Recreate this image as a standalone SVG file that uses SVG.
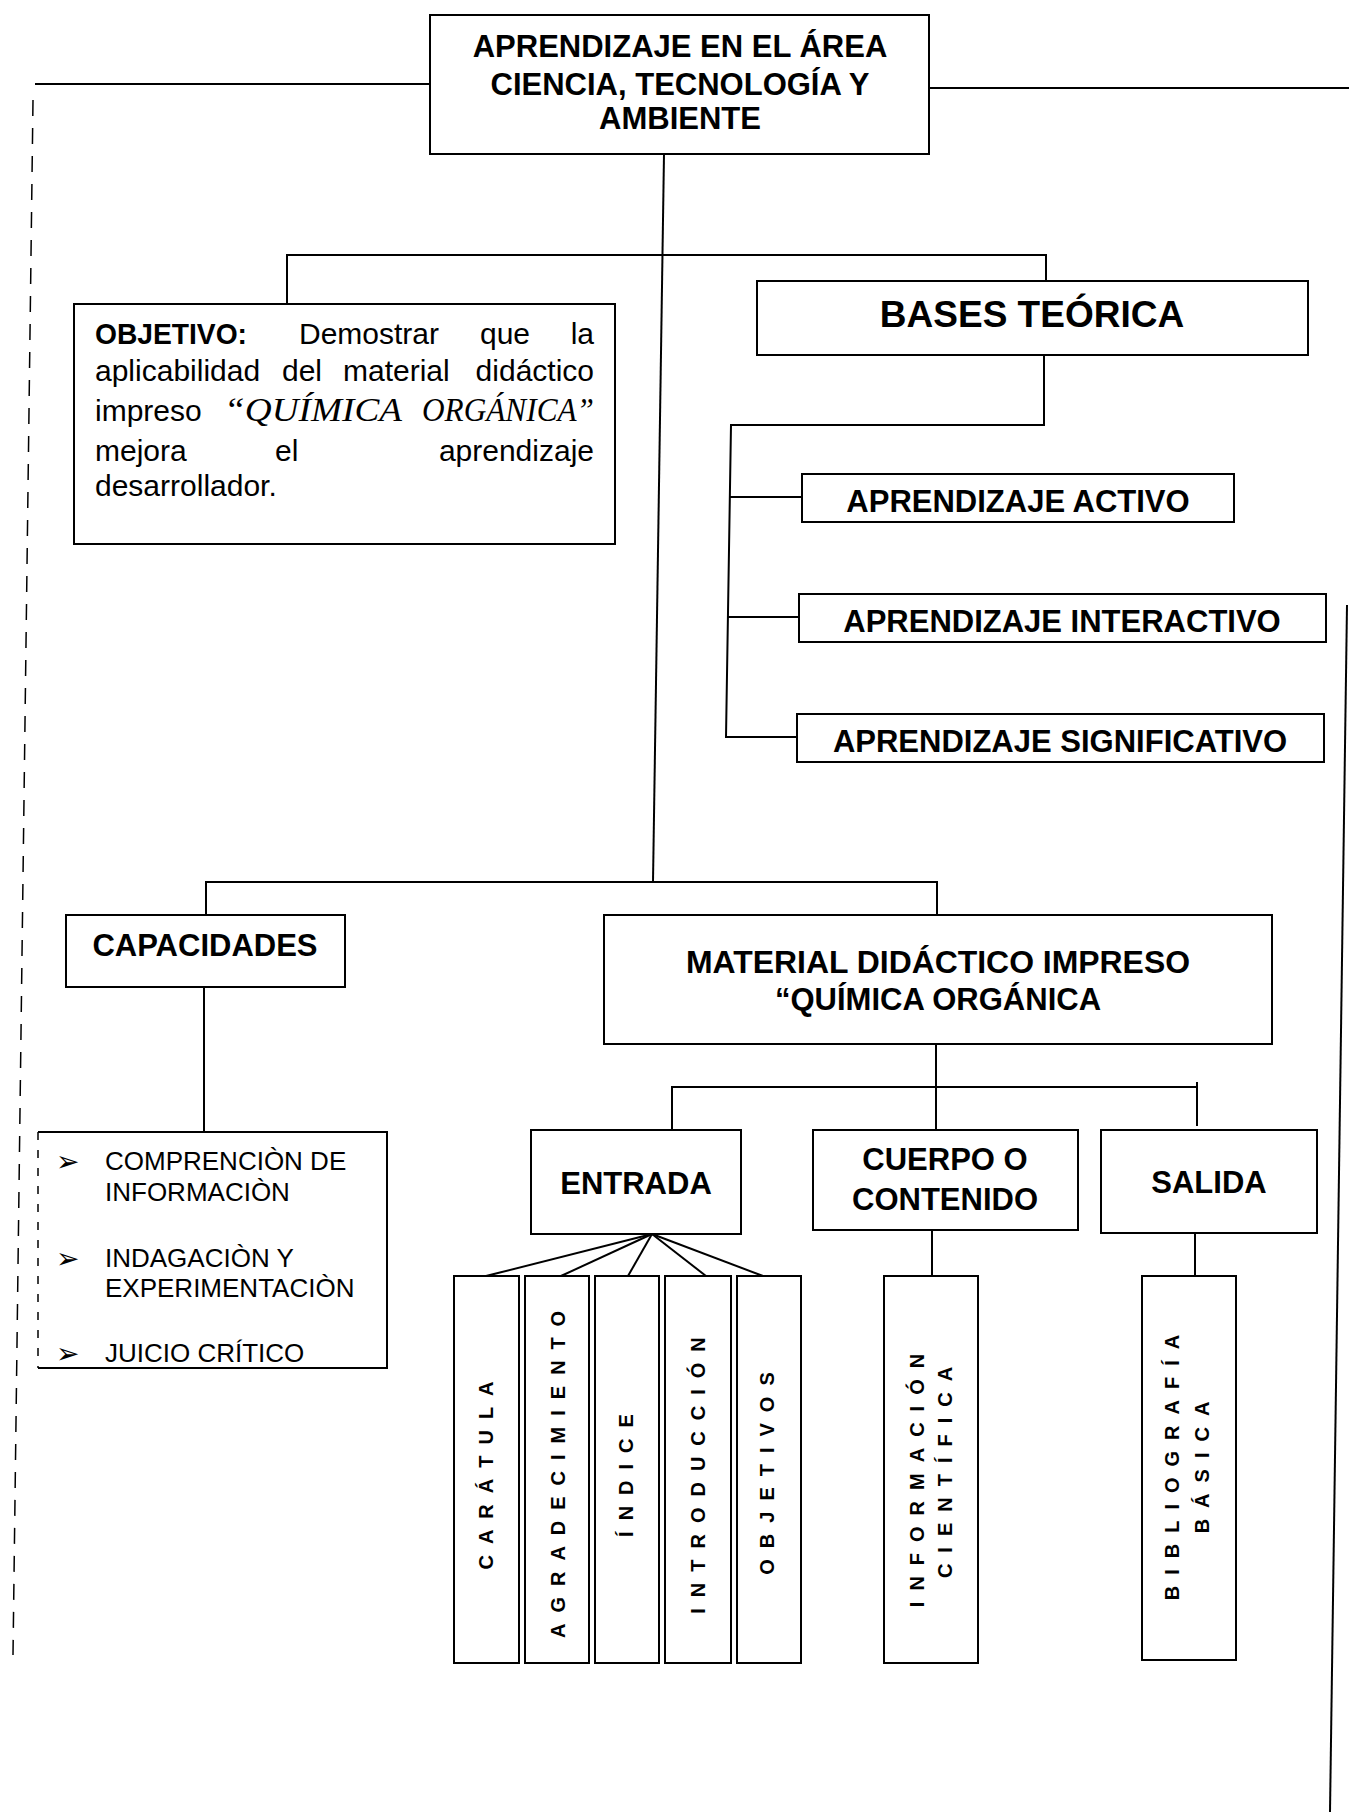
<svg xmlns="http://www.w3.org/2000/svg" width="1349" height="1815" viewBox="0 0 1349 1815">
<style>
.bg{fill:#fff}
.box{fill:#fff;stroke:#000;stroke-width:2}
.ln{stroke:#000;stroke-width:2;fill:none}
.dash{stroke:#000;stroke-width:1.5;fill:none;stroke-dasharray:16 12}
.t{font-family:"Liberation Sans",Arial,sans-serif;fill:#000}
.b{font-weight:bold}
.s31{font-size:31px}
.s30{font-size:30px}
.s26{font-size:26px}
.s37{font-size:37px}
.v{font-family:"Liberation Sans",Arial,sans-serif;font-weight:bold;font-size:20px;letter-spacing:11px;text-anchor:middle}
.c{text-anchor:middle}
.scr{font-family:"Liberation Serif","Times New Roman",serif;font-style:italic;font-size:33px}
.bul{font-family:"DejaVu Sans",sans-serif;font-size:28px}
</style>
<rect class="bg" x="0" y="0" width="1349" height="1815"/>

<g id="connectors">
  <line class="ln" x1="35" y1="84" x2="430" y2="84"/>
  <line class="ln" x1="929" y1="88" x2="1349" y2="88"/>
  <line class="dash" x1="33" y1="100" x2="13" y2="1655"/>
  <line class="ln" x1="1347" y1="605" x2="1330" y2="1812"/>
  <line class="ln" x1="664" y1="154" x2="653" y2="882"/>
  <polyline class="ln" points="287,303 287,255 1046,255 1046,281"/>
  <polyline class="ln" points="1044,355 1044,425 731,425 726,737 797,737"/>
  <line class="ln" x1="730" y1="497" x2="802" y2="497"/>
  <line class="ln" x1="728" y1="617" x2="799" y2="617"/>
  <polyline class="ln" points="206,915 206,882 937,882 937,915"/>
  <line class="ln" x1="204" y1="987" x2="204" y2="1132"/>
  <line class="ln" x1="936" y1="1044" x2="936" y2="1130"/>
  <polyline class="ln" points="672,1130 672,1087 1197,1087"/>
  <line class="ln" x1="1197" y1="1082" x2="1197" y2="1126"/>
  <line class="ln" x1="652" y1="1234" x2="486" y2="1276"/>
  <line class="ln" x1="652" y1="1234" x2="561" y2="1276"/>
  <line class="ln" x1="652" y1="1234" x2="628" y2="1276"/>
  <line class="ln" x1="652" y1="1234" x2="706" y2="1276"/>
  <line class="ln" x1="652" y1="1234" x2="763" y2="1276"/>
  <line class="ln" x1="932" y1="1230" x2="932" y2="1276"/>
  <line class="ln" x1="1195" y1="1233" x2="1195" y2="1276"/>
</g>

<g id="n-root">
  <rect class="box" x="430" y="15" width="499" height="139"/>
  <text class="t b s31 c" x="680" y="57">APRENDIZAJE EN EL ÁREA</text>
  <text class="t b s31 c" x="680" y="95">CIENCIA, TECNOLOGÍA Y</text>
  <text class="t b s31 c" x="680" y="129">AMBIENTE</text>
</g>

<g id="n-objetivo">
  <rect class="box" x="74" y="304" width="541" height="240"/>
  <text class="t s30 b" x="95" y="344" textLength="152" lengthAdjust="spacingAndGlyphs">OBJETIVO:</text>
  <text class="t s30" x="299" y="344">Demostrar</text>
  <text class="t s30" x="480" y="344">que</text>
  <text class="t s30" x="594" y="344" text-anchor="end">la</text>
  <text class="t s30" x="95" y="381">aplicabilidad</text>
  <text class="t s30" x="282" y="381">del</text>
  <text class="t s30" x="343" y="381">material</text>
  <text class="t s30" x="594" y="381" text-anchor="end">didáctico</text>
  <text class="t s30" x="95" y="421">impreso</text>
  <text class="scr" x="224" y="421" textLength="178" lengthAdjust="spacingAndGlyphs">“QUÍMICA</text>
  <text class="scr" x="422" y="421" textLength="172" lengthAdjust="spacingAndGlyphs">ORGÁNICA”</text>
  <text class="t s30" x="95" y="461">mejora</text>
  <text class="t s30" x="275" y="461">el</text>
  <text class="t s30" x="594" y="461" text-anchor="end">aprendizaje</text>
  <text class="t s30" x="95" y="496">desarrollador.</text>
</g>

<g id="n-bases">
  <rect class="box" x="757" y="281" width="551" height="74"/>
  <text class="t b s37 c" x="1032" y="327">BASES TEÓRICA</text>
</g>

<g id="n-activo">
  <rect class="box" x="802" y="474" width="432" height="48"/>
  <text class="t b s31 c" x="1018" y="512">APRENDIZAJE ACTIVO</text>
</g>
<g id="n-interactivo">
  <rect class="box" x="799" y="594" width="527" height="48"/>
  <text class="t b s31 c" x="1062" y="632">APRENDIZAJE INTERACTIVO</text>
</g>
<g id="n-significativo">
  <rect class="box" x="797" y="714" width="527" height="48"/>
  <text class="t b s31 c" x="1060" y="752">APRENDIZAJE SIGNIFICATIVO</text>
</g>

<g id="n-capacidades">
  <rect class="box" x="66" y="915" width="279" height="72"/>
  <text class="t b s31 c" x="205" y="956">CAPACIDADES</text>
</g>

<g id="n-lista">
  <polyline class="ln" points="38,1132 387,1132 387,1368 38,1368"/>
  <line class="dash" x1="38" y1="1132" x2="38" y2="1368" style="stroke-dasharray:8 10"/>
  <text class="bul" x="56" y="1171">➢</text>
  <text class="t s26" x="105" y="1170">COMPRENCIÒN DE</text>
  <text class="t s26" x="105" y="1201">INFORMACIÒN</text>
  <text class="bul" x="56" y="1268">➢</text>
  <text class="t s26" x="105" y="1267">INDAGACIÒN Y</text>
  <text class="t s26" x="105" y="1297">EXPERIMENTACIÒN</text>
  <text class="bul" x="56" y="1363">➢</text>
  <text class="t s26" x="105" y="1362">JUICIO CRÍTICO</text>
</g>

<g id="n-material">
  <rect class="box" x="604" y="915" width="668" height="129"/>
  <text class="t b s31 c" x="938" y="973" textLength="504" lengthAdjust="spacingAndGlyphs">MATERIAL DIDÁCTICO IMPRESO</text>
  <text class="t b s31 c" x="938" y="1010">“QUÍMICA ORGÁNICA</text>
</g>

<g id="n-entrada">
  <rect class="box" x="531" y="1130" width="210" height="104"/>
  <text class="t b s31 c" x="636" y="1194">ENTRADA</text>
</g>
<g id="n-cuerpo">
  <rect class="box" x="813" y="1130" width="265" height="100"/>
  <text class="t b s31 c" x="945" y="1170">CUERPO O</text>
  <text class="t b s31 c" x="945" y="1210">CONTENIDO</text>
</g>
<g id="n-salida">
  <rect class="box" x="1101" y="1130" width="216" height="103"/>
  <text class="t b s31 c" x="1209" y="1193">SALIDA</text>
</g>

<g id="n-caratula">
  <rect class="box" x="454" y="1276" width="65" height="387"/>
  <text class="v" transform="translate(493,1470) rotate(-90)">CARÁTULA</text>
</g>
<g id="n-agradecimiento">
  <rect class="box" x="525" y="1276" width="64" height="387"/>
  <text class="v" transform="translate(565,1469) rotate(-90)">AGRADECIMIENTO</text>
</g>
<g id="n-indice">
  <rect class="box" x="595" y="1276" width="64" height="387"/>
  <text class="v" transform="translate(633,1470) rotate(-90)">ÍNDICE</text>
</g>
<g id="n-introduccion">
  <rect class="box" x="665" y="1276" width="66" height="387"/>
  <text class="v" transform="translate(705,1470) rotate(-90)">INTRODUCCIÓN</text>
</g>
<g id="n-objetivos">
  <rect class="box" x="737" y="1276" width="64" height="387"/>
  <text class="v" transform="translate(774,1468) rotate(-90)">OBJETIVOS</text>
</g>
<g id="n-informacion">
  <rect class="box" x="884" y="1276" width="94" height="387"/>
  <text class="v" transform="translate(924,1475) rotate(-90)">INFORMACIÓN</text>
  <text class="v" transform="translate(952,1467) rotate(-90)">CIENTÍFICA</text>
</g>
<g id="n-bibliografia">
  <rect class="box" x="1142" y="1276" width="94" height="384"/>
  <text class="v" transform="translate(1179,1462) rotate(-90)">BIBLIOGRAFÍA</text>
  <text class="v" transform="translate(1209,1462) rotate(-90)">BÁSICA</text>
</g>
</svg>
